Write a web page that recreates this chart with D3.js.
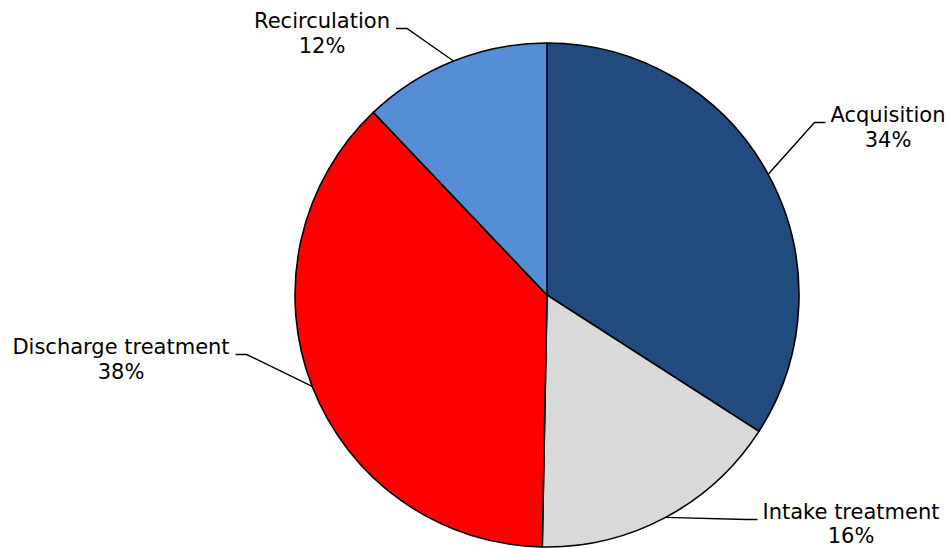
<!DOCTYPE html>
<meta charset="utf-8">
<head>
<style>
body { margin: 0; background: #fff; }
.slice { stroke: #000; stroke-width: 1.6px; }
.leader { stroke: #000; stroke-width: 1.4px; fill: none; }
.lbl { font-family: "DejaVu Sans", Verdana, sans-serif; font-size: 21px; fill: #000; }
</style>
<script src="https://d3js.org/d3.v7.min.js"></script>
</head>
<body>
<div id="chart"></div>
<script>

// data (shares; labels show them rounded)
var categories = ["Acquisition", "Intake treatment", "Discharge treatment", "Recirculation"];
var shares = [34.1, 16.2, 37.6, 12.1];
var colors = ["#214A7E", "#D9D9D9", "#FF0000", "#558ED5"];

// label layout (text centre x, first baseline y, line gap, which side the leader meets)
var labelLayout = [
  {cx: 888, y: 122, gap: 25, side: "left"},
  {cx: 851, y: 519, gap: 24, side: "left"},
  {cx: 121, y: 354, gap: 25, side: "right"},
  {cx: 322, y: 28, gap: 25, side: "right"}
];

var width = 949, height = 548,
  cx = 547, cy = 295, radius = 252;

var svg = d3.select("#chart").append("svg")
  .attr("width", width)
  .attr("height", height);

var g = svg.append("g")
  .attr("transform", "translate(" + cx + "," + cy + ")");

var pie = d3.pie().sort(null).value(function(d) { return d; });
var arcs = pie(shares);

var arc = d3.arc().innerRadius(0).outerRadius(radius);

g.selectAll("path.slice")
  .data(arcs)
  .enter()
  .append("path")
    .attr("class", "slice")
    .attr("d", arc)
    .attr("fill", function(d, i) { return colors[i]; });

// labels
var labels = svg.selectAll("text.lbl")
  .data(arcs)
  .enter()
  .append("text")
    .attr("class", "lbl")
    .attr("text-anchor", "middle");

labels.append("tspan")
  .attr("x", function(d, i) { return labelLayout[i].cx; })
  .attr("y", function(d, i) { return labelLayout[i].y; })
  .text(function(d, i) { return categories[i]; });

labels.append("tspan")
  .attr("x", function(d, i) { return labelLayout[i].cx; })
  .attr("y", function(d, i) { return labelLayout[i].y + labelLayout[i].gap; })
  .text(function(d) { return Math.round(d.value) + "%"; });

// leader lines: from slice edge at mid angle to an elbow, then short horizontal to the text
labels.each(function(d, i) {
  var L = labelLayout[i];
  var w = this.firstChild.getComputedTextLength();
  var mid = (d.startAngle + d.endAngle) / 2;
  var p0 = [cx + radius * Math.sin(mid), cy - radius * Math.cos(mid)];
  var endX = L.side == "left" ? L.cx - w / 2 - 5 : L.cx + w / 2 + 6;
  var elbowX = L.side == "left" ? endX - 11 : endX + 11;
  var y = L.y + 0.5;
  svg.append("path")
    .attr("class", "leader")
    .attr("d", d3.line()([p0, [elbowX, y], [endX, y]]));
});

</script>
</body>
</html>
